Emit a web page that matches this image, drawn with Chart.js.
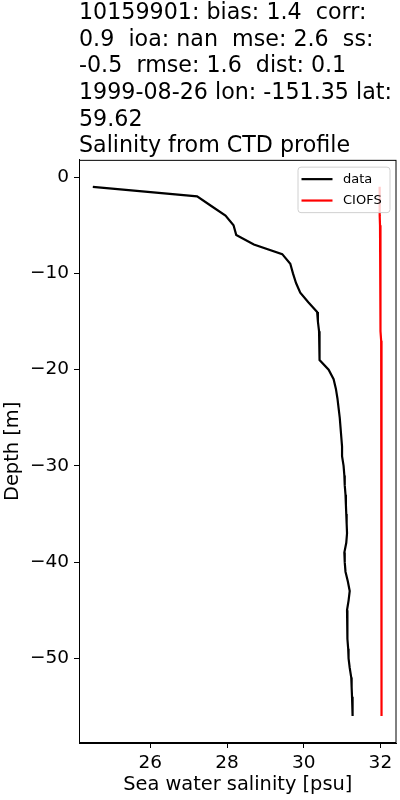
<!DOCTYPE html>
<html>
<head>
<meta charset="utf-8">
<script src="https://cdn.jsdelivr.net/npm/chart.js@4"></script>
<style>
  body { margin: 0; background: #fff; }
  #wrap { width: 400px; height: 800px; }
</style>
</head>
<body>
<div id="wrap"><canvas id="profile" width="400" height="800"></canvas></div>
<script>
// depth of each sample [m], negative down
var depths = [-1, -2, -3, -4, -5, -6, -7, -8, -9, -10, -11, -12, -13, -14, -15, -16, -17, -18, -19, -20,
    -21, -22, -23, -24, -25, -26, -27, -28, -29, -30, -31, -32, -33, -34, -35, -36, -37, -38, -39, -40,
    -41, -42, -43, -44, -45, -46, -47, -48, -49, -50, -51, -52, -53, -54, -55, -56];
// CTD salinity
var ctdSalinity = [24.50, 27.22, 27.59, 27.96, 28.17, 28.24, 28.70, 29.44, 29.65, 29.72, 29.80, 29.91, 30.12, 30.35, 30.37, 30.40, 30.42, 30.42, 30.40, 30.65,
    30.78, 30.84, 30.88, 30.91, 30.94, 30.96, 30.98, 31.00, 31.00, 31.04, 31.06, 31.07, 31.09, 31.10, 31.11, 31.12, 31.13, 31.11, 31.06, 31.07,
    31.09, 31.15, 31.20, 31.17, 31.13, 31.13, 31.14, 31.15, 31.16, 31.17, 31.20, 31.24, 31.25, 31.26, 31.27, 31.28];
// CIOFS model salinity
var modelSalinity = [31.98, 31.98, 31.98, 31.985, 31.99, 31.99, 31.99, 31.995, 32.00, 32.00, 32.00, 32.005, 32.01, 32.01, 32.01, 32.015, 32.02, 32.02, 32.025, 32.03,
    32.03, 32.03, 32.03, 32.03, 32.03, 32.03, 32.03, 32.03, 32.03, 32.03, 32.03, 32.03, 32.03, 32.03, 32.03, 32.03, 32.03, 32.03, 32.03, 32.03,
    32.03, 32.03, 32.03, 32.03, 32.03, 32.03, 32.03, 32.03, 32.03, 32.03, 32.03, 32.03, 32.03, 32.03, 32.03, 32.03];
var seriesNames = ['data', 'CIOFS'];
var titleLines = [
    '10159901: bias: 1.4  corr:',
    '0.9  ioa: nan  mse: 2.6  ss:',
    '-0.5  rmse: 1.6  dist: 0.1',
    '1999-08-26 lon: -151.35 lat:',
    '59.62',
    'Salinity from CTD profile'
];
var xTitle = 'Sea water salinity [psu]';
var yTitle = 'Depth [m]';

function toPoints(xs, ys) {
    var pts = [];
    for (var i = 0; i < xs.length; i++) pts.push({ x: xs[i], y: ys[i] });
    return pts;
}

Chart.defaults.font.family = '"DejaVu Sans", sans-serif';
Chart.defaults.color = '#000';

// box around the plot + matplotlib style legend in the upper right
var framePlugin = {
    id: 'frame',
    afterDatasetsDraw: function (chart) {
        var ctx = chart.ctx, a = chart.chartArea;
        ctx.save();
        // legend
        var w = 92, h = 45.5, bx = a.right - 6.5 - w, by = a.top + 7.3, r = 3;
        ctx.beginPath();
        ctx.moveTo(bx + r, by);
        ctx.arcTo(bx + w, by, bx + w, by + h, r);
        ctx.arcTo(bx + w, by + h, bx, by + h, r);
        ctx.arcTo(bx, by + h, bx, by, r);
        ctx.arcTo(bx, by, bx + w, by, r);
        ctx.closePath();
        ctx.fillStyle = 'rgba(255,255,255,0.8)';
        ctx.fill();
        ctx.strokeStyle = '#d0d0d0';
        ctx.lineWidth = 1;
        ctx.stroke();
        ctx.font = '13px "DejaVu Sans"';
        ctx.textBaseline = 'middle';
        ctx.textAlign = 'left';
        chart.data.datasets.forEach(function (ds, i) {
            var yy = by + 12 + i * 21.4;
            ctx.beginPath();
            ctx.moveTo(bx + 3.5, yy);
            ctx.lineTo(bx + 34.5, yy);
            ctx.strokeStyle = ds.borderColor;
            ctx.lineWidth = 2.2;
            ctx.stroke();
            ctx.fillStyle = '#000';
            ctx.fillText(ds.label, bx + 45, yy);
        });
        // spines
        ctx.strokeStyle = '#000';
        ctx.lineWidth = 1;
        ctx.strokeRect(a.left + 0.5, a.top + 0.5, a.right - a.left - 1, a.bottom - a.top - 1);
        ctx.restore();
    }
};

var ctx = document.getElementById('profile').getContext('2d');
var profileChart = new Chart(ctx, {
    type: 'scatter',
    data: {
        datasets: [{
            label: seriesNames[0],
            data: toPoints(ctdSalinity, depths),
            showLine: true,
            borderColor: '#000000',
            backgroundColor: '#000000',
            borderWidth: 2.2,
            pointRadius: 0
        }, {
            label: seriesNames[1],
            data: toPoints(modelSalinity, depths),
            showLine: true,
            borderColor: '#ff0000',
            backgroundColor: '#ff0000',
            borderWidth: 2.2,
            pointRadius: 0
        }]
    },
    options: {
        responsive: false,
        animation: false,
        devicePixelRatio: 1,
        layout: { padding: { left: 0, right: 3.5, top: 0, bottom: 0 } },
        plugins: {
            legend: { display: false },
            tooltip: { enabled: false },
            title: {
                display: true,
                text: titleLines,
                align: 'start',
                fullSize: false,
                color: '#000',
                font: { size: 22.2, weight: 'normal', lineHeight: 1.2 },
                padding: { top: 0, bottom: 0 }
            }
        },
        scales: {
            x: {
                type: 'linear',
                min: 24.14,
                max: 32.42,
                border: { display: true, color: '#000', width: 1 },
                grid: { drawOnChartArea: false, drawTicks: true, tickLength: 5, color: '#000', lineWidth: 1 },
                ticks: { stepSize: 2, includeBounds: false, padding: 4, font: { size: 18.5 }, color: '#000', maxRotation: 0 },
                title: { display: true, text: xTitle, font: { size: 19.4 }, color: '#000', padding: { top: 0, bottom: 3 } },
                afterFit: function (scale) { scale.height = 57; }
            },
            y: {
                type: 'linear',
                min: -58.8,
                max: 1.8,
                border: { display: true, color: '#000', width: 1 },
                grid: { drawOnChartArea: false, drawTicks: true, tickLength: 5, color: '#000', lineWidth: 1 },
                ticks: {
                    stepSize: 10,
                    includeBounds: false,
                    padding: 5,
                    font: { size: 18.5 },
                    color: '#000',
                    callback: function (v) { return String(v).replace('-', '\u2212'); }
                },
                title: { display: true, text: yTitle, font: { size: 19.4 }, color: '#000', padding: { top: 1, bottom: 0 } },
                afterFit: function (scale) { scale.width = 79; }
            }
        }
    },
    plugins: [framePlugin]
});
</script>
</body>
</html>
